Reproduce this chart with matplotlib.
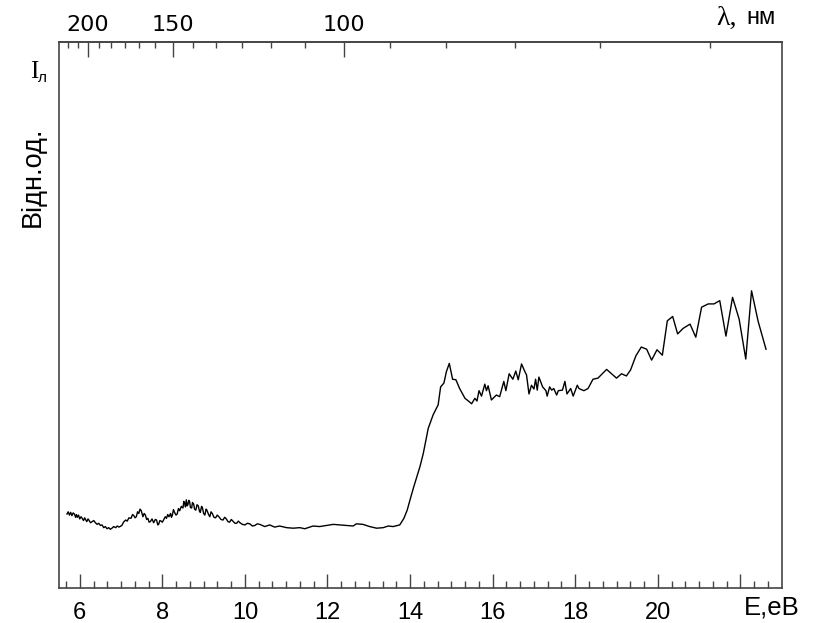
import matplotlib
matplotlib.use("Agg")
import matplotlib.pyplot as plt
from matplotlib.ticker import FixedLocator, FixedFormatter
import numpy as np

# Photon energy (eV) and luminescence intensity (rel. units)
energy_ev = [
    5.69, 5.72, 5.75, 5.78, 5.81, 5.84, 5.87, 5.90, 5.92, 5.94,
    5.97, 6.00, 6.03, 6.06, 6.09, 6.12, 6.14, 6.17, 6.20, 6.22,
    6.26, 6.30, 6.34, 6.38, 6.42, 6.46, 6.50, 6.54, 6.58, 6.62,
    6.66, 6.70, 6.74, 6.78, 6.82, 6.87, 6.91, 6.95, 7.02, 7.06,
    7.11, 7.15, 7.19, 7.24, 7.28, 7.31, 7.34, 7.37, 7.40, 7.43,
    7.46, 7.49, 7.53, 7.56, 7.59, 7.62, 7.65, 7.68, 7.71, 7.75,
    7.79, 7.83, 7.86, 7.89, 7.91, 7.94, 7.97, 8.00, 8.03, 8.07,
    8.10, 8.13, 8.16, 8.20, 8.22, 8.24, 8.27, 8.29, 8.33, 8.36,
    8.39, 8.42, 8.46, 8.50, 8.52, 8.54, 8.56, 8.58, 8.60, 8.62,
    8.64, 8.66, 8.68, 8.71, 8.73, 8.76, 8.78, 8.81, 8.84, 8.87,
    8.90, 8.92, 8.95, 8.97, 9.00, 9.03, 9.06, 9.08, 9.12, 9.15,
    9.18, 9.21, 9.25, 9.29, 9.33, 9.37, 9.42, 9.47, 9.51, 9.55,
    9.59, 9.63, 9.67, 9.71, 9.76, 9.80, 9.84, 9.88, 9.94, 10.00,
    10.06, 10.12, 10.18, 10.24, 10.30, 10.36,
    10.48, 10.60, 10.72, 10.84, 11.01, 11.17, 11.33, 11.45,
    11.65, 11.81, 11.98, 12.14, 12.30, 12.46, 12.62, 12.70, 12.86, 13.02,
    13.19, 13.35, 13.47, 13.59, 13.75, 13.85, 13.93, 14.01, 14.09, 14.24,
    14.32, 14.44, 14.56, 14.68, 14.74, 14.82, 14.88, 14.95, 15.03, 15.11,
    15.20, 15.33, 15.43, 15.49, 15.57, 15.62, 15.67, 15.73, 15.81, 15.85,
    15.89, 15.97, 16.09, 16.17, 16.27, 16.32, 16.40, 16.49, 16.56, 16.62,
    16.70, 16.78, 16.82, 16.88, 16.94, 17.00, 17.04, 17.08, 17.12, 17.21,
    17.29, 17.32, 17.38, 17.43, 17.48, 17.55, 17.59, 17.69, 17.75, 17.80,
    17.89, 17.95, 18.05, 18.09, 18.21, 18.31, 18.43, 18.55, 18.76, 18.88,
    19.00, 19.12, 19.24, 19.34, 19.47, 19.60, 19.73, 19.85, 19.98, 20.11,
    20.23, 20.36, 20.48, 20.61, 20.78, 20.92, 21.06, 21.22, 21.36, 21.50,
    21.65, 21.81, 21.97, 22.13, 22.27, 22.43, 22.62,
]
intensity = [
    13.5, 13.9, 13.3, 13.8, 13.2, 13.7, 13.5, 12.9, 13.4, 12.9,
    13.3, 12.6, 13.0, 12.7, 12.3, 12.8, 12.5, 12.1, 12.6, 12.4,
    11.9, 12.1, 12.3, 11.9, 11.6, 11.8, 11.4, 11.5, 11.0, 11.2,
    10.8, 11.0, 10.7, 10.9, 11.2, 11.0, 11.3, 11.1, 11.4, 12.0,
    12.4, 12.2, 12.8, 12.7, 13.4, 13.2, 12.8, 13.0, 13.9, 13.6,
    14.4, 14.1, 13.0, 13.6, 13.3, 12.5, 12.7, 12.0, 12.1, 12.6,
    11.9, 12.5, 12.4, 11.5, 11.6, 12.3, 12.2, 12.0, 12.4, 13.0,
    12.7, 13.4, 13.0, 13.6, 12.9, 13.2, 14.3, 13.9, 13.3, 13.5,
    14.5, 14.1, 14.9, 14.6, 15.8, 15.5, 14.8, 16.1, 15.0, 15.2,
    16.0, 15.8, 14.7, 14.6, 15.6, 15.3, 14.4, 14.2, 15.2, 15.0,
    14.0, 13.8, 14.9, 14.7, 13.6, 13.3, 14.4, 14.2, 13.4, 13.0,
    13.9, 13.6, 12.9, 12.8, 13.3, 13.0, 12.5, 12.4, 12.9, 12.6,
    12.1, 12.0, 12.5, 12.2, 11.8, 11.8, 12.2, 11.9, 11.6, 11.5,
    11.8, 11.7, 11.3, 11.4, 11.7, 11.6,
    11.2, 11.5, 11.1, 11.3, 11.0, 10.9, 11.0, 10.8,
    11.3, 11.2, 11.4, 11.6, 11.5, 11.4, 11.3, 11.7, 11.6, 11.2,
    10.9, 11.0, 11.3, 11.2, 11.5, 12.7, 14.2, 16.4, 18.5, 22.2,
    24.6, 29.2, 31.7, 33.5, 36.8, 37.5, 39.6, 41.1, 38.2, 38.1,
    36.5, 34.7, 34.1, 33.7, 34.7, 34.2, 36.1, 35.1, 37.3, 36.1,
    37.0, 34.4, 35.3, 35.0, 37.8, 36.1, 39.2, 38.2, 39.7, 38.1,
    41.0, 39.6, 39.0, 35.5, 37.1, 36.4, 38.2, 36.2, 38.6, 36.8,
    36.1, 35.1, 36.8, 36.2, 36.5, 35.3, 36.1, 36.2, 37.8, 35.5,
    36.5, 35.1, 37.1, 36.5, 36.1, 36.5, 38.2, 38.4, 40.0, 39.2,
    38.4, 39.2, 38.8, 39.9, 42.5, 44.1, 43.7, 41.7, 43.6, 42.6,
    48.9, 49.7, 46.5, 47.5, 48.3, 45.9, 51.4, 52.0, 52.0, 52.6,
    46.1, 53.2, 49.2, 41.9, 54.4, 48.8, 43.7,
]

# Axis ticks
energy_major = [6, 8, 10, 12, 14, 16, 18, 20, 22]
energy_labels = ["6", "8", "10", "12", "14", "16", "18", "20", ""]
wavelength_major = [200, 150, 100]
wavelength_minor = [58.33, 66.67, 75.0, 83.33, 91.67, 108.33, 116.67,
                    125.0, 133.33, 141.67, 158.33, 166.67, 175.0, 183.33,
                    191.67, 208.33, 216.67]
HC = 1239.84  # eV*nm

E_MIN, E_MAX = 5.49, 23.0

fig = plt.figure(figsize=(8.14, 6.23), dpi=100)
ax = fig.add_axes([0.0721, 0.0567, 0.8882, 0.8759])

ax.plot(energy_ev, intensity, color="black", lw=1.0)
ax.set_xlim(E_MIN, E_MAX)
ax.set_ylim(0, 100)
ax.set_yticks([])

spine_color = "#444444"
for s in ax.spines.values():
    s.set_color(spine_color)
    s.set_linewidth(1.2)

sans = "Liberation Sans"
serif = "Liberation Serif"

ax.set_xticks(energy_major)
ax.set_xticklabels(energy_labels, fontsize=17, family=sans)
ax.xaxis.set_minor_locator(FixedLocator(np.arange(5 + 2 / 3, 23, 1 / 3)))
ax.tick_params(axis="x", which="major", direction="in", length=10, width=1,
               color=spine_color, pad=10)
ax.tick_params(axis="x", which="minor", direction="in", length=5, width=1,
               color=spine_color)


def ev_to_nm(e):
    e = np.asarray(e, dtype=float)
    with np.errstate(divide="ignore"):
        return HC / e


# Wavelength scale along the top edge: every mark is a major tick,
# only the round values carry a label and a long mark
top_locs = wavelength_major + wavelength_minor
top_text = [str(w) for w in wavelength_major] + [""] * len(wavelength_minor)
top = ax.secondary_xaxis("top", functions=(ev_to_nm, ev_to_nm))
top.xaxis.set_major_locator(FixedLocator(top_locs))
top.xaxis.set_major_formatter(FixedFormatter(top_text))
top.tick_params(axis="x", which="major", direction="in", length=11, width=1,
                color=spine_color, pad=5, labelsize=16)
for lbl in top.get_xticklabels():
    lbl.set_family("DejaVu Sans")
top.spines["top"].set_color(spine_color)
top.spines["top"].set_linewidth(1.2)
for i, tick in enumerate(top.xaxis.get_major_ticks(len(top_locs))):
    if i >= len(wavelength_major):
        tick.tick2line.set_markersize(4)
        tick.tick1line.set_markersize(4)

# Axis captions
fig.text(772 / 814, 1 - 607 / 623, "E,eB", fontsize=18.5, family=sans,
         ha="center", va="center")
fig.text(737 / 814, 1 - 18 / 623, "λ,", fontsize=20, family=serif,
         ha="right", va="center")
fig.text(746 / 814, 1 - 18 / 623, "нм", fontsize=17, family=sans,
         ha="left", va="center")
fig.text(38 / 814, 1 - 72 / 623, "I", fontsize=18, family=serif,
         ha="right", va="center")
fig.text(38 / 814, 1 - 78 / 623, "л", fontsize=11, family=sans,
         ha="left", va="center")
fig.text(33 / 814, 1 - 177 / 623, "Відн.од.", fontsize=19.5, family=sans,
         rotation=90, ha="center", va="center")

fig.savefig("out.png", dpi=100)
